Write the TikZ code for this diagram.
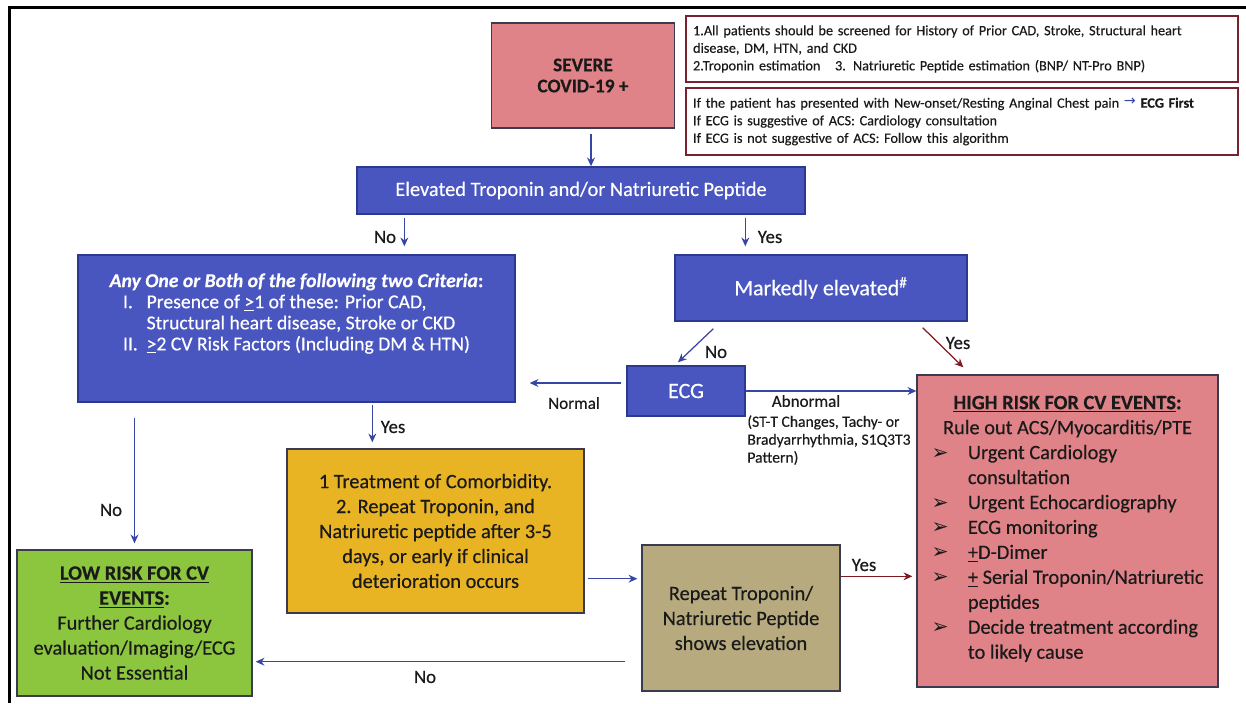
\documentclass[tikz,border=0pt]{standalone}
\usepackage{fontspec}
\setmainfont{Carlito}[FakeBold=0.4]
\newfontfamily\dingfont{DejaVu Sans}
\usetikzlibrary{arrows.meta}
\definecolor{cvblue}{HTML}{4A56C0}
\definecolor{blueedge}{HTML}{2B3990}
\definecolor{cvpink}{HTML}{E08388}
\definecolor{cvyellow}{HTML}{E8B424}
\definecolor{cvgreen}{HTML}{8CC63F}
\definecolor{cvolive}{HTML}{B6AA7E}
\definecolor{boxedge}{HTML}{3A3A50}
\definecolor{noteedge}{HTML}{7A2130}
\definecolor{arrowblue}{HTML}{3746A5}
\definecolor{arrowred}{HTML}{801820}
\definecolor{textdark}{HTML}{1A1A1A}
\newcommand{\bul}{{\dingfont ➢}}

\begin{document}
\begin{tikzpicture}[x=0.02cm,y=-0.02cm]
        \tikzset{box/.style = {draw=boxedge,line width=0.8pt,align=center,inner sep=0pt,text=textdark,font=\fontsize{11.6}{14.2}\selectfont}}
        \tikzset{bluebox/.style = {box,fill=cvblue,draw=blueedge,text=white}}
        \tikzset{note/.style = {draw=noteedge,line width=0.8pt,align=left,inner xsep=0.14cm,inner ysep=0pt,text width=10.76cm,text=textdark,font=\fontsize{8.1}{10}\selectfont}}
        \tikzset{arr/.style = {draw=arrowblue,line width=0.7pt,-{Stealth[length=5pt,width=4.5pt]}}}
        \tikzset{redarr/.style = {arr,draw=arrowred}}
        \tikzset{lbl/.style = {inner sep=0pt,text=textdark,font=\fontsize{10.7}{12}\selectfont}}
        \tikzset{smalllbl/.style = {lbl,font=\fontsize{9.7}{11}\selectfont}}

        \useasboundingbox (0,0) rectangle (1246,703);
        \draw[line width=1.8pt] (9.5,703) -- (9.5,7.5) -- (1246,7.5);

        \node[box,fill=cvpink,minimum width=3.66cm,minimum height=2.1cm,font=\bfseries\fontsize{11}{12}\selectfont] (severe) at (583,75.5) {SEVERE\\COVID-19 +};
        \node[note,minimum height=1.32cm] (screen) at (962,49) {1.All patients should be screened for History of Prior CAD, Stroke, Structural heart\\disease, DM, HTN, and CKD\\2.Troponin estimation\hspace{0.7em} 3. Natriuretic Peptide estimation (BNP/ NT-Pro BNP)};
        \node[note,minimum height=1.34cm] (chestpain) at (962,121.5) {If the patient has presented with New-onset/Resting Anginal Chest pain {\color{arrowblue}\dingfont\raisebox{0.3ex}{→}}\ \textbf{ECG First}\\If ECG is suggestive of ACS: Cardiology consultation\\If ECG is not suggestive of ACS: Follow this algorithm};

        \node[bluebox,minimum width=8.96cm,minimum height=0.94cm] (elev) at (581,190.5) {Elevated Troponin and/or Natriuretic Peptide};
        \node[bluebox,minimum width=8.74cm,minimum height=2.94cm] (crit) at (296.5,328.5) {};
        \node[text=white,align=center,inner sep=0pt,font=\fontsize{11.2}{12}\selectfont] (crittext) at ([yshift=0.27cm]crit.center) {\textbf{\textit{Any One or Both of the following two Criteria}:}\\
            \begin{tabular}[t]{@{}l@{\hspace{5pt}}l@{}}
            I. & Presence of \underline{>}1 of these: Prior CAD,\\
               & Structural heart disease, Stroke or CKD\\
            II. & \underline{>}2 CV Risk Factors (Including DM \& HTN)
            \end{tabular}};
        \node[bluebox,minimum width=5.84cm,minimum height=1.32cm,font=\fontsize{12.5}{14}\selectfont] (marked) at (821,288) {Markedly elevated\textsuperscript{\#}};
        \node[bluebox,minimum width=2.36cm,minimum height=1cm,font=\fontsize{12.5}{14}\selectfont] (ecg) at (686,391) {ECG};

        \node[box,fill=cvpink,minimum width=6.02cm,minimum height=6.24cm] (high) at (1067.5,531) {{\bfseries\underline{HIGH RISK FOR CV EVENTS}:}\\
            Rule out ACS/Myocarditis/PTE\\
            \begin{tabular}[t]{@{}l@{\hspace{11pt}}l@{}}
            \bul & Urgent Cardiology\\
                 & consultation\\
            \bul & Urgent Echocardiography\\
            \bul & ECG monitoring\\
            \bul & \underline{+}D-Dimer\\
            \bul & \underline{+} Serial Troponin/Natriuretic\\
                 & peptides\\
            \bul & Decide treatment according\\
                 & to likely cause
            \end{tabular}};
        \node[box,fill=cvyellow,minimum width=5.94cm,minimum height=3.28cm] (treat) at (435.5,531) {1 Treatment of Comorbidity.\\2. Repeat Troponin, and\\Natriuretic peptide after 3-5\\days, or early if clinical\\deterioration occurs};
        \node[box,fill=cvgreen,minimum width=4.7cm,minimum height=2.92cm] (low) at (134.5,623) {{\bfseries\underline{LOW RISK FOR CV}}\\{\bfseries\underline{EVENTS}:}\\Further Cardiology\\evaluation/Imaging/ECG\\Not Essential};
        \node[box,fill=cvolive,minimum width=3.96cm,minimum height=2.92cm] (recheck) at (741,618) {Repeat Troponin/\\Natriuretic Peptide\\shows elevation};

        \draw[arr,shorten <=0.1cm] ([xshift=0.16cm]severe.south) -- ([xshift=0.16cm]severe.south |- elev.north);
        \draw[arr,shorten <=0.06cm,shorten >=0.16cm] ([xshift=0.96cm]elev.south west) -- ([xshift=0.96cm]elev.south west |- crit.north);
        \draw[arr,shorten <=0.06cm,shorten >=0.16cm] ([xshift=1.42cm]marked.north west |- elev.south) -- ([xshift=1.42cm]marked.north west);
        \draw[arr] ([xshift=0.78cm,yshift=-0.14cm]marked.south west) -- ([xshift=-0.16cm,yshift=0.06cm]ecg.north);
        \draw[redarr] ([xshift=-0.9cm,yshift=-0.12cm]marked.south east) -- ([xshift=0.94cm,yshift=0.14cm]high.north west);
        \draw[arr,shorten <=0.1cm,shorten >=0.28cm] ([yshift=0.16cm]ecg.west) -- ([yshift=0.16cm]ecg.west -| crit.east);
        \draw[arr] (ecg.east) -- (ecg.east -| high.west);
        \draw[arr,shorten <=0.04cm,shorten >=0.12cm] ([xshift=1.72cm]treat.north west |- crit.south) -- ([xshift=1.72cm]treat.north west);
        \draw[arr,shorten <=0.3cm,shorten >=0.12cm] (low.north |- crit.south) -- (low.north);
        \draw[arr,shorten <=0.06cm,shorten >=0.08cm] ([yshift=0.7cm]treat.south east) -- ([yshift=0.7cm]treat.south east -| recheck.west);
        \draw[redarr,shorten >=0.08cm] ([yshift=-0.64cm]recheck.north east) -- ([yshift=-0.64cm]recheck.north east -| high.west);
        \draw[arr,shorten >=0.06cm] ([xshift=-0.32cm,yshift=0.6cm]recheck.south west) -- ([yshift=0.6cm]recheck.south west -| low.east);

        \node[lbl] (no1) at (385,237) {No};
        \node[lbl] (yes1) at (770,237) {Yes};
        \node[lbl] (no2) at (716,352) {No};
        \node[lbl] (yes2) at (958,343) {Yes};
        \node[smalllbl] (normal) at (574,403) {Normal};
        \node[smalllbl] (abnormal) at (806,401) {Abnormal};
        \node[lbl,anchor=north west,align=left,font=\fontsize{8.9}{10.2}\selectfont] (abnote) at (747,415) {(ST-T Changes, Tachy- or\\Bradyarrhythmia, S1Q3T3\\Pattern)};
        \node[lbl] (yes3) at (393,427) {Yes};
        \node[lbl] (no3) at (111,510) {No};
        \node[lbl] (yes4) at (864,565) {Yes};
        \node[lbl] (no4) at (425,677) {No};
    \end{tikzpicture}
\end{document}
